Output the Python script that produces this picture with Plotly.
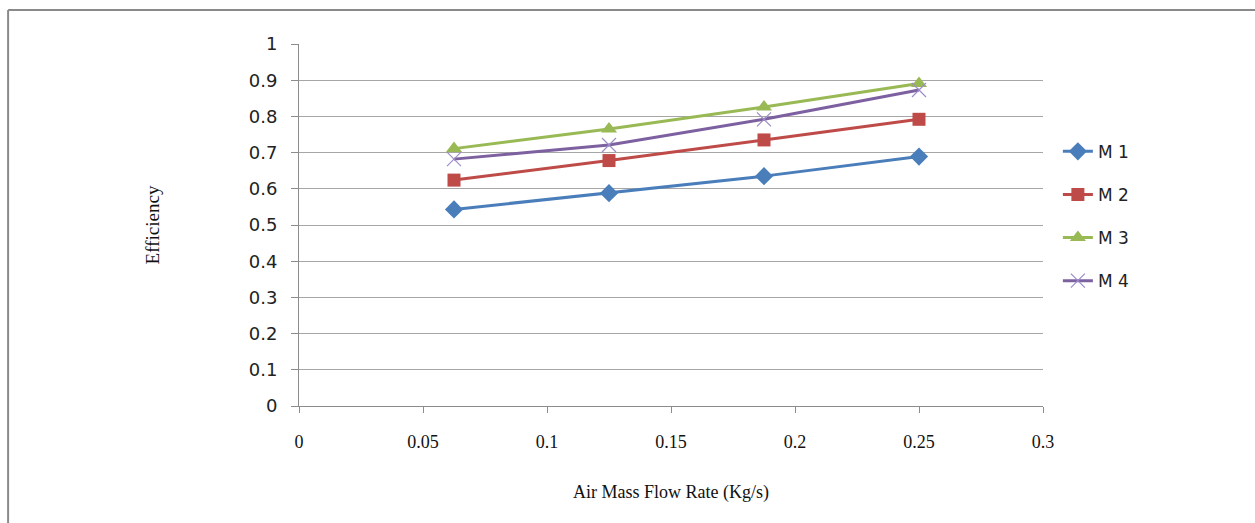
import plotly.graph_objects as go

flow_rate = [0.0625, 0.125, 0.1875, 0.25]
m1 = [0.543, 0.588, 0.635, 0.689]
m2 = [0.624, 0.678, 0.735, 0.792]
m3 = [0.711, 0.765, 0.826, 0.891]
m4 = [0.682, 0.721, 0.792, 0.873]
series_names = ["M 1", "M 2", "M 3", "M 4"]
x_ticks = [0, 0.05, 0.1, 0.15, 0.2, 0.25, 0.3]
x_tick_text = ["0", "0.05", "0.1", "0.15", "0.2", "0.25", "0.3"]
y_ticks = [0, 0.1, 0.2, 0.3, 0.4, 0.5, 0.6, 0.7, 0.8, 0.9, 1]
y_tick_text = ["0", "0.1", "0.2", "0.3", "0.4", "0.5", "0.6", "0.7", "0.8", "0.9", "1"]

styles = [
    dict(color="#4a7ebb", symbol="diamond", size=14, mline=dict(width=0)),
    dict(color="#be4b48", symbol="square", size=13, mline=dict(width=0)),
    dict(color="#98b954", symbol="triangle-up", size=14, mline=dict(width=0)),
    dict(color="#7d60a0", symbol="x-thin", size=14, mline=dict(width=1.2, color="#9c8cc8")),
]

fig = go.Figure()
for name, vals, st in zip(series_names, [m1, m2, m3, m4], styles):
    fig.add_trace(go.Scatter(
        x=flow_rate, y=vals, name=name, mode="lines+markers",
        legendgroup=name,
        line=dict(color=st["color"], width=3),
        marker=dict(symbol=st["symbol"], size=st["size"], color=st["color"], line=st["mline"]),
    ))

axis_gray = "#8c8c8c"
fig.update_layout(
    width=1255, height=523,
    margin=dict(l=299, r=212, t=44, b=117),
    paper_bgcolor="white", plot_bgcolor="white",
    showlegend=True,
    legend=dict(x=1.02, xanchor="left", y=0.752, yanchor="top",
                font=dict(family="DejaVu Sans", size=17, color="#222"),
                tracegroupgap=18, bgcolor="rgba(0,0,0,0)"),
    xaxis=dict(range=[0, 0.3], tickvals=x_ticks, ticktext=x_tick_text,
               showgrid=False, zeroline=False,
               showline=True, linecolor=axis_gray, linewidth=1,
               ticks="outside", ticklen=6, tickcolor=axis_gray,
               ticklabelstandoff=13,
               tickfont=dict(family="Liberation Serif", size=18, color="#111"),
               title=dict(text="Air Mass Flow Rate (Kg/s)", standoff=34,
                          font=dict(family="Liberation Serif", size=18, color="#111"))),
    yaxis=dict(range=[0, 1], tickvals=y_ticks, ticktext=y_tick_text,
               showgrid=True, gridcolor="#a6a6a6", gridwidth=1,
               zeroline=False,
               showline=True, linecolor=axis_gray, linewidth=1,
               ticks="outside", ticklen=7, tickcolor=axis_gray,
               ticklabelstandoff=10,
               tickfont=dict(family="DejaVu Sans", size=18, color="#222"),
               title=dict(text="Efficiency", standoff=84,
                          font=dict(family="Liberation Serif", size=19, color="#111"))),
    shapes=[
        dict(type="line", xref="paper", yref="paper", x0=-0.391, x1=1.3, y0=1.094, y1=1.094,
             line=dict(color="#8a8a8a", width=2)),
        dict(type="line", xref="paper", yref="paper", x0=-0.391, x1=-0.391, y0=1.094, y1=-0.4,
             line=dict(color="#8a8a8a", width=2)),
    ],
)

fig.write_html("out.html")
